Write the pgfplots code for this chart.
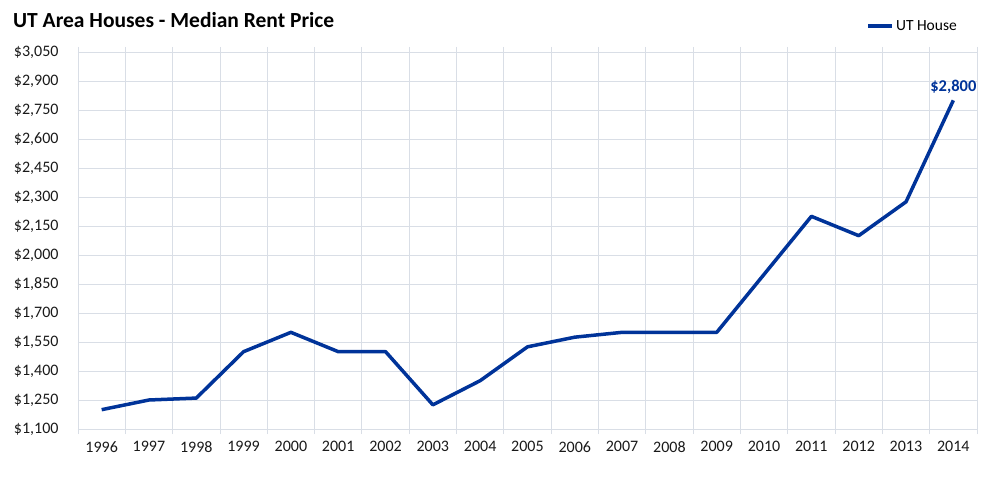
\documentclass[border=0pt]{standalone}
\usepackage{pgfplots}
\pgfplotsset{compat=1.18}
\usepackage{fontspec}
\setmainfont{Carlito}
\definecolor{utblue}{RGB}{0,51,153}
\definecolor{gridc}{RGB}{217,222,230}
\begin{document}
\begin{tikzpicture}
\begin{axis}[
    scale only axis,
    width=899pt, height=377pt,
    xmin=1995.5, xmax=2014.5,
    ymin=1100, ymax=3050,
    xtick={1996,...,2014},
    minor xtick={1995.5,1996.5,...,2014.5},
    ytick={1100,1250,...,3050},
    axis line style={draw=none},
    major tick length=0pt,
    minor tick length=5pt,
    tick align=outside,
    minor tick style={gridc, line width=0.8pt},
    ymajorgrids, xminorgrids,
    grid style={gridc, line width=0.8pt},
    minor grid style={gridc, line width=0.8pt},
    /pgf/number format/assume math mode=true,
    xticklabel={\pgfmathprintnumber[1000 sep={}]{\tick}},
    yticklabel={\$\pgfmathprintnumber[1000 sep={,}, fixed]{\tick}},
    ticklabel style={font=\fontsize{16}{19}\selectfont, text=black!90},
    yticklabel style={xshift=-16pt},
    xticklabel style={yshift=-9pt},
    legend style={at={(1,1)}, anchor=east, xshift=-15pt, yshift=26pt,
        draw=none, fill=none, font=\fontsize{15.5}{18}\selectfont,
        /tikz/every even column/.append style={column sep=0pt}},
    legend image code/.code={\draw[#1] (0pt,0pt) -- (24pt,0pt);},
    clip=false,
]
\addplot[utblue, line width=3.5pt, line join=round] table {
x y
1996 1200
1997 1250
1998 1260
1999 1500
2000 1600
2001 1500
2002 1500
2003 1225
2004 1350
2005 1525
2006 1575
2007 1600
2008 1600
2009 1600
2010 1900
2011 2200
2012 2100
2013 2275
2014 2800
};
\legend{UT House}
\node[anchor=south, text=utblue, font=\bfseries\fontsize{16.5}{19}\selectfont, yshift=3pt]
    at (axis cs:2014,2800) {\$2,800};
\end{axis}
\node[anchor=base west, inner sep=0pt, font=\bfseries\fontsize{21.5}{25}\selectfont] at (-65pt,401pt) {UT Area Houses - Median Rent Price};
\path[use as bounding box] (-78pt,-48pt) rectangle (913pt,429pt);
\end{tikzpicture}
\end{document}
